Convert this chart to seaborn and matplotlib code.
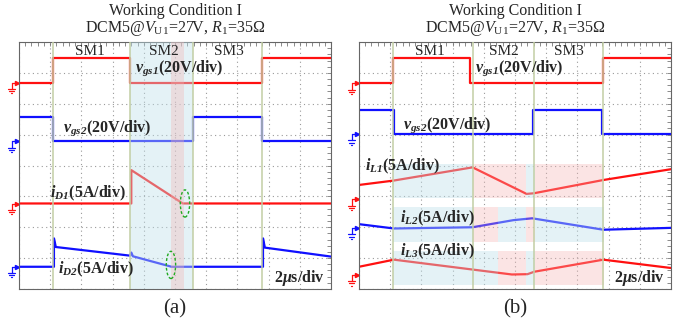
import matplotlib.pyplot as plt
from matplotlib.patches import Ellipse
from matplotlib.ticker import MultipleLocator
import seaborn as sns

# Scope captures, values in divisions
# x: 0..10 div (2 us/div), y: 0..8 div
# ---- panel (a)
t_vgs1_a = [0, 1.08, 1.08, 3.56, 3.56, 7.8, 7.8, 10]
vgs1_a = [6.68, 6.68, 7.47, 7.47, 6.68, 6.68, 7.47, 7.47]
t_vgs2_a = [0, 1.08, 1.08, 5.57, 5.57, 7.8, 7.8, 10]
vgs2_a = [5.58, 5.58, 4.8, 4.8, 5.58, 5.58, 4.8, 4.8]
t_id1_a = [0, 3.6, 3.6, 5.25, 10]
id1_a = [2.77, 2.77, 3.85, 2.77, 2.77]
t_id2_a = [0, 1.12, 1.12, 1.18, 3.56, 3.6, 3.65, 4.89, 7.82, 7.82, 7.88, 10]
id2_a = [0.72, 0.72, 1.64, 1.36, 1.08, 1.18, 1.06, 0.72, 0.72, 1.64, 1.34, 1.05]
gnd_a = [(6.68, "r"), (4.78, "b"), (2.76, "r"), (0.72, "b")]
edges_a = [1.08, 3.56, 5.57, 7.8]
sm2_a = (3.56, 5.57)
overlap_a = (4.86, 5.3)
ring_x_a = [5.32, 4.87]
ring_y_a = [2.77, 0.78]

# ---- panel (b)
t_vgs1_b = [0, 1.1, 1.1, 3.56, 3.56, 7.83, 7.83, 10]
vgs1_b = [6.68, 6.68, 7.47, 7.47, 6.68, 6.68, 7.47, 7.47]
t_vgs2_b = [0, 1.12, 1.12, 5.57, 5.57, 7.8, 7.8, 10]
vgs2_b = [5.8, 5.8, 5.01, 5.01, 5.8, 5.8, 5.01, 5.01]
t_il1_b = [0, 1.1, 3.64, 5.37, 5.6, 7.83, 10]
il1_b = [3.37, 3.51, 3.94, 3.08, 3.1, 3.53, 3.88]
t_il2_b = [0, 1.12, 3.64, 4.95, 5.55, 7.83, 10]
il2_b = [2.1, 1.96, 2.0, 2.23, 2.29, 1.92, 1.98]
t_il3_b = [0, 1.12, 3.64, 4.9, 5.4, 5.62, 7.83, 10]
il3_b = [0.72, 0.95, 0.63, 0.47, 0.48, 0.56, 0.95, 0.68]
gnd_b = [(6.66, "r"), (5.01, "b"), (2.9, "r"), (1.97, "b"), (0.45, "r")]
edges_b = [1.1, 3.64, 5.62, 7.83]
# mode bands behind each inductor current: (x0, x1, colour) and y range
band_il1 = [(1.1, 3.64, "b"), (3.64, 5.34, "p"), (5.34, 5.64, "b"), (5.64, 7.85, "p")]
band_il2 = [(1.1, 3.64, "b"), (3.64, 4.46, "p"), (4.46, 5.34, "b"), (5.34, 5.64, "p"), (5.64, 7.85, "b")]
band_il3 = [(1.1, 4.46, "b"), (4.46, 5.34, "p"), (5.34, 5.64, "b"), (5.64, 7.85, "p")]
band_y = [(2.95, 4.05), (1.52, 2.66), (0.13, 1.23)]

RED = "#ff1010"
BLUE = "#1010ff"
SHADE = {"b": "#bfe0ea", "p": "#f4b4b4"}
ALPHA = {"b": 0.42, "p": 0.35}
EDGE = "#c2cea4"
TRACE = {"r": RED, "b": BLUE}

sns.set_style("white")
plt.rcParams["font.family"] = ["Liberation Serif", "DejaVu Serif"]
plt.rcParams["mathtext.fontset"] = "custom"
plt.rcParams["mathtext.rm"] = "Liberation Serif"
plt.rcParams["mathtext.it"] = "Liberation Serif:italic"
plt.rcParams["mathtext.bf"] = "Liberation Serif:bold"
plt.rcParams["mathtext.bfit"] = "Liberation Serif:italic:bold"

fig = plt.figure(figsize=(6.8, 3.28), dpi=100)
ax_a = fig.add_axes([19 / 680, 1 - 289 / 328, 312 / 680, 247 / 328])
ax_b = fig.add_axes([359 / 680, 1 - 289 / 328, 312 / 680, 247 / 328])


def scope_frame(ax):
    ax.set_xlim(0, 10)
    ax.set_ylim(0, 8)
    ax.xaxis.set_major_locator(MultipleLocator(1))
    ax.yaxis.set_major_locator(MultipleLocator(1))
    ax.xaxis.set_minor_locator(MultipleLocator(0.2))
    ax.yaxis.set_minor_locator(MultipleLocator(0.2))
    ax.grid(True, which="major", color="#9a9a9a", lw=0.8, linestyle=(0, (1, 3)))
    ax.tick_params(which="both", direction="in", top=True, right=True,
                   labelleft=False, labelbottom=False, length=3,
                   width=0.6, color="#777777")
    for s in ax.spines.values():
        s.set_color("#666666")
        s.set_linewidth(0.8)
    ax.set_xlabel("")
    ax.set_ylabel("")


def trace(ax, t, v, c):
    sns.lineplot(x=t, y=v, ax=ax, color=TRACE[c], lw=1.6, sort=False,
                 estimator=None, zorder=2)


def ground(ax, y, c):
    tr = ax.get_yaxis_transform()
    col = TRACE[c]
    x0, x1 = -0.024, -0.006
    kw = dict(transform=tr, color=col, lw=0.9, clip_on=False)
    ax.plot([x0, x1], [y, y], **kw)
    ax.plot([x1], [y], marker=">", ms=3, transform=tr, color=col, clip_on=False)
    ax.plot([x0, x0], [y, y - 0.2], **kw)
    for k, w in enumerate([0.011, 0.007, 0.003]):
        yy = y - 0.2 - k * 0.07
        ax.plot([x0 - w, x0 + w], [yy, yy], **kw)


def headers(ax, tag):
    ax.text(0.5, 1.125, "Working Condition I", transform=ax.transAxes,
            ha="center", va="center", fontsize=11.5)
    ax.text(0.5, 1.055, r"DCM5@$V_{\mathrm{U1}}$=27V, $R_{1}$=35Ω",
            transform=ax.transAxes, ha="center", va="center", fontsize=11.5)
    ax.text(0.5, -0.08, tag, transform=ax.transAxes, ha="center",
            va="center", fontsize=15)
    for x, s in [(2.28, "SM1"), (4.63, "SM2"), (6.72, "SM3")]:
        ax.text(x, 7.7, s, ha="center", va="center", fontsize=11, zorder=5)
    ax.text(9.82, 0.36, r"2$\mathbfit{\mu}$s/div", ha="right", va="center",
            fontsize=11.5, fontweight="bold", zorder=5)


def label(ax, x, y, sym, sub, unit):
    s = r"$\mathbfit{%s}_{\mathbfit{%s}}$(%s)" % (sym, sub, unit)
    ax.text(x, y, s, ha="left", va="center", fontsize=11.5,
            fontweight="bold", zorder=5)


# ---------------- panel (a)
scope_frame(ax_a)
trace(ax_a, t_vgs1_a, vgs1_a, "r")
trace(ax_a, t_vgs2_a, vgs2_a, "b")
trace(ax_a, t_id1_a, id1_a, "r")
trace(ax_a, t_id2_a, id2_a, "b")
ax_a.axvspan(*sm2_a, color=SHADE["b"], alpha=ALPHA["b"], lw=0, zorder=3)
ax_a.axvspan(*overlap_a, color=SHADE["p"], alpha=ALPHA["p"], lw=0, zorder=3)
for e in edges_a:
    ax_a.axvline(e, color=EDGE, lw=1.1, zorder=4)
for x, y in zip(ring_x_a, ring_y_a):
    ax_a.add_patch(Ellipse((x, y), 0.3, 0.88, fill=False, ec="#22aa22",
                           lw=1.0, ls=(0, (2, 1.5)), zorder=6))
for y, c in gnd_a:
    ground(ax_a, y, c)
headers(ax_a, "(a)")
label(ax_a, 3.72, 7.14, "v", "gs1", "20V/div")
label(ax_a, 1.41, 5.21, "v", "gs2", "20V/div")
label(ax_a, 1.0, 3.11, "i", "D1", "5A/div")
label(ax_a, 1.25, 0.62, "i", "D2", "5A/div")

# ---------------- panel (b)
scope_frame(ax_b)
trace(ax_b, t_vgs1_b, vgs1_b, "r")
trace(ax_b, t_vgs2_b, vgs2_b, "b")
trace(ax_b, t_il1_b, il1_b, "r")
trace(ax_b, t_il2_b, il2_b, "b")
trace(ax_b, t_il3_b, il3_b, "r")
for bands, (y0, y1) in zip([band_il1, band_il2, band_il3], band_y):
    for x0, x1, c in bands:
        ax_b.fill_between([x0, x1], y0, y1, color=SHADE[c], alpha=ALPHA[c],
                          lw=0, zorder=3)
for e in edges_b:
    ax_b.axvline(e, color=EDGE, lw=1.1, zorder=4)
for y, c in gnd_b:
    ground(ax_b, y, c)
headers(ax_b, "(b)")
label(ax_b, 3.72, 7.14, "v", "gs1", "20V/div")
label(ax_b, 1.42, 5.31, "v", "gs2", "20V/div")
label(ax_b, 0.19, 3.98, "i", "L1", "5A/div")
label(ax_b, 1.31, 2.29, "i", "L2", "5A/div")
label(ax_b, 1.31, 1.21, "i", "L3", "5A/div")

fig.savefig("out.png", dpi=100)
